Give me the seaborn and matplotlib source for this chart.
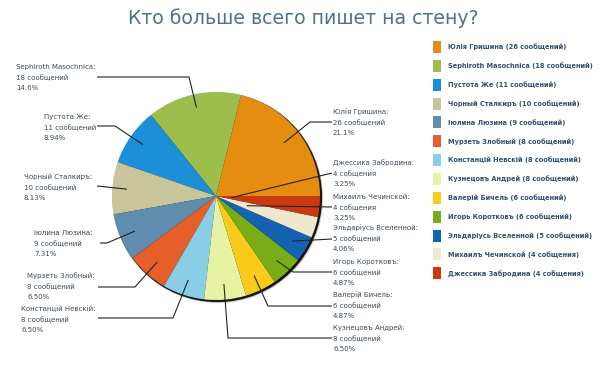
import numpy as np
import matplotlib
matplotlib.use("Agg")
import matplotlib.pyplot as plt
from matplotlib.patches import Circle, Rectangle
import seaborn as sns

# ---- data ----
names = ["Юлія Гришина", "Sephiroth Masochnica", "Пустота Же", "Чорный Сталкиръ",
         "Іюлина Люзина", "Мурзеть Злобный", "Констанцій Невскій", "Кузнецовъ Андрей",
         "Валерій Бичель", "Игорь Коротковъ", "Эльдаріусь Вселенной",
         "Михаилъ Чечинской", "Джессика Забродина"]
counts = [26, 18, 11, 10, 9, 8, 8, 8, 6, 6, 5, 4, 4]
count_words = ["сообщений"] * 11 + ["собщения", "собщения"]
percents = ["21.1%", "14.6%", "8.94%", "8.13%", "7.31%", "6.50%", "6.50%", "6.50%",
            "4.87%", "4.87%", "4.06%", "3.25%", "3.25%"]
title = "Кто больше всего пишет на стену?"

colors = ["#E48D10", "#9DBD4C", "#1B8FD7", "#C9C59B", "#5E8DAF", "#E65E2A",
          "#8ACDE6", "#E7F2A2", "#F8CB1C", "#78AD18", "#1462B0", "#EFE7CE", "#CA3A0E"]

# ---- layout (pixel coordinates, y downwards) ----
W, H = 604, 378
cx, cy, R = 216, 196, 104
# label: (text_x, name_y, side, line_y, line_start_x, elbow_x, anchor_fraction)
label_layout = [
    (333, 112, "R", 122, 332, 310, 0.83),
    (16, 67, "L", 77, 97, 189, 0.87),
    (44, 117, "L", 126, 97, 115, 0.86),
    (24, 177, "L", 186, 97, 97, 0.86),
    (34, 233, "L", 243, 100, 107, 0.85),
    (27, 276, "L", 287, 98, 135, 0.85),
    (21, 309, "L", 318, 98, 173, 0.85),
    (333, 328, "R", 338, 332, 228, 0.85),
    (333, 295, "R", 306, 332, 268, 0.85),
    (333, 262, "R", 272, 332, 293, 0.85),
    (333, 228, "R", 239, 332, 332, 0.85),
    (333, 197, "R", 207, 332, 332, 0.31),
    (333, 163, "R", 173, 332, 332, 0.15),
]

sns.set_theme(style="white")
plt.rcParams["font.family"] = ["DejaVu Sans"]

fig = plt.figure(figsize=(W / 100, H / 100), dpi=100)
fig.patch.set_facecolor("white")
ax = fig.add_axes([0, 0, 1, 1])
ax.set_xlim(0, W)
ax.set_ylim(H, 0)
ax.set_aspect("equal")
ax.axis("off")

# shadow / rim
for k, a in [(4, 0.08), (3, 0.15), (2, 0.35)]:
    ax.add_patch(Circle((cx + k * 0.6, cy + k * 0.6), R + 1, color="#000000", alpha=a, lw=0, zorder=1))
ax.add_patch(Circle((cx + 1.5, cy + 1.5), R + 0.5, color="#151515", lw=0, zorder=1.5))

pal = sns.color_palette(colors)
wedges, _ = ax.pie(counts, colors=pal, startangle=0, counterclock=False,
                   center=(cx, cy), radius=R, frame=True,
                   wedgeprops=dict(linewidth=0, zorder=2))
ax.set_xlim(0, W)
ax.set_ylim(H, 0)
ax.axis("off")

txt_color = "#3c4a58"
fs = 5.0
dy = 10.6
for i, w in enumerate(wedges):
    tx, ny, side, ly, sx, ex, f = label_layout[i]
    lines = [names[i] + ":", f"{counts[i]} {count_words[i]}", percents[i]]
    for j, s in enumerate(lines):
        ax.text(tx, ny + j * dy, s, fontsize=fs, color=txt_color, ha="left", va="center", zorder=5)
    mid = np.deg2rad((w.theta1 + w.theta2) / 2)
    axp = cx + f * R * np.cos(mid)
    ayp = cy + f * R * np.sin(mid)
    ax.plot([sx, ex, axp], [ly, ly, ayp], color="#222222", lw=0.8, zorder=4,
            solid_capstyle="butt")

# legend
leg_y0, leg_dy = 47, 18.85
for i in range(len(names)):
    y = leg_y0 + i * leg_dy
    ax.add_patch(Rectangle((433, y - 6), 7.5, 12, color=pal[i], lw=0, zorder=5))
    ax.text(448, y, f"{names[i]} ({counts[i]} {count_words[i]})", fontsize=4.8,
            fontweight="bold", color="#34506e", ha="left", va="center", zorder=5)

ax.text(303, 18, title, fontsize=13.6, color="#52708c", ha="center", va="center")

fig.savefig("out.png", dpi=100, facecolor="white")
